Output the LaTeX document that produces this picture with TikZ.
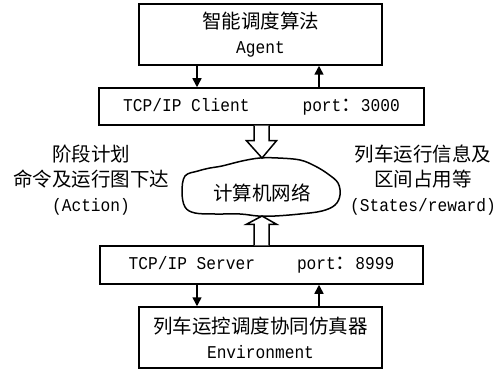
\documentclass[tikz,border=0pt]{standalone}
\usepackage{fontspec}
\newfontfamily\zhfam{Noto Sans CJK SC}
\newfontfamily\latfam[FakeStretch=0.9]{Liberation Mono}
\usetikzlibrary{arrows.meta,calc}
\newcommand\zh{\zhfam\fontsize{19.5}{25}\selectfont}
\newcommand\lat[1]{{\latfam\fontsize{18}{25}\selectfont #1}}
\begin{document}
\begin{tikzpicture}[x=1pt,y=-1pt,
  box/.style={draw,line width=1.5pt,inner sep=0pt,align=center,font=\zh},
  txt/.style={inner sep=0pt,align=center,font=\zh},
  link/.style={line width=1.5pt,-{Triangle[length=9pt,width=9pt]}},
  hollow/.style={line width=1.5pt,fill=white,line join=miter}]
\useasboundingbox (0,0) rectangle (502,371);
\node[box,minimum width=243,minimum height=61] (agent) at (260.5,34.5) {智能调度算法\\\lat{Agent}};
\node[box,minimum width=325,minimum height=37] (client) at (261.5,106.5) {\lat{TCP/IP Client}\hspace{53pt}\lat{port}：\lat{3000}};
\node[box,minimum width=323,minimum height=38] (server) at (261.5,265) {\lat{TCP/IP Server}\hspace{42pt}\lat{port}：\lat{8999}};
\node[box,minimum width=243,minimum height=61] (env) at (260.5,337.5) {列车运控调度协同仿真器\\\lat{Environment}};
\coordinate (xl) at (197,0);
\coordinate (xr) at (319,0);
\draw[link] (agent.south -| xl) -- (client.north -| xl);
\draw[link] (client.north -| xr) -- (agent.south -| xr);
\draw[link] (server.south -| xl) -- (env.north -| xl);
\draw[link] (env.north -| xr) -- (server.south -| xr);
% cloud
\draw[line width=1.5pt] plot[smooth cycle,tension=0.6] coordinates {
 (185,176) (198,171) (210,168) (222,166) (242,161) (260,158) (278,158) (300,160)
 (315,166) (328,174) (338,183) (340,195) (335,205) (322,211) (300,214) (275,216)
 (258,216) (240,214) (215,214) (195,213) (185,207) (182,192)};
\node[txt] (net) at (262,193) {计算机网络};
\coordinate (cloudN) at (262,158);
\coordinate (cloudS) at (262,216);
% hollow arrows
\draw[hollow] ($(client.south)+(-7.5,0)$) -- ($(client.south)+(-7.5,15)$) -- ($(client.south)+(-15,15)$)
  -- (cloudN) -- ($(client.south)+(15,15)$) -- ($(client.south)+(7.5,15)$) -- ($(client.south)+(7.5,0)$);
\draw[hollow] ($(server.north)+(-7.5,0)$) -- ($(server.north)+(-7.5,-21)$) -- ($(server.north)+(-15,-21)$)
  -- (cloudS) -- ($(server.north)+(15,-21)$) -- ($(server.north)+(7.5,-21)$) -- ($(server.north)+(7.5,0)$);
% side labels
\node[txt] (act) at (91,180) {阶段计划\\命令及运行图下达\\\lat{(Action)}};
\node[txt] (st) at (423,180) {列车运行信息及\\区间占用等\\\lat{(States/reward)}};
\end{tikzpicture}
\end{document}
